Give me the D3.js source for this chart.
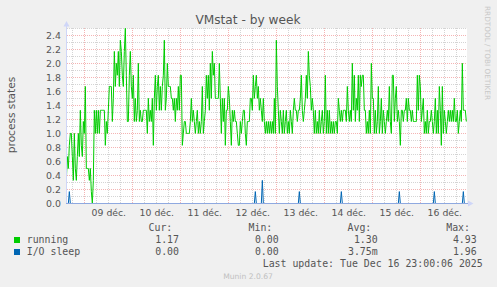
<!DOCTYPE html>
<html><head><meta charset="utf-8">
<script src="https://cdn.jsdelivr.net/npm/d3@7"></script>
<style>
html,body{margin:0;padding:0;background:#F0F0F0;}
svg{display:block;}
</style></head><body>
<svg id="c" width="497" height="287"></svg>
<script>
// ---------------- data ----------------
const chartTitle = "VMstat - by week";
const yAxisTitle = "process states";
const sideText = "RRDTOOL / TOBI OETIKER";
const footerText = "Munin 2.0.67";
const lastUpdate = "Last update: Tue Dec 16 23:00:06 2025";

const yTicks = [0.0, 0.2, 0.4, 0.6, 0.8, 1.0, 1.2, 1.4, 1.6, 1.8, 2.0, 2.2, 2.4];
const dayLabels = ["09 déc.", "10 déc.", "11 déc.", "12 déc.", "13 déc.", "14 déc.", "15 déc.", "16 déc."];
const dayLabelTimes = ["2025-12-09T12:00", "2025-12-10T12:00", "2025-12-11T12:00", "2025-12-12T12:00",
                       "2025-12-13T12:00", "2025-12-14T12:00", "2025-12-15T12:00", "2025-12-16T12:00"];

const seriesNames = ["running", "I/O sleep"];
const seriesColors = ["#00CC00", "#0066B3"];
const legendHeaders = ["Cur:", "Min:", "Avg:", "Max:"];
const legendCur = ["1.17", "0.00"];
const legendMin = ["0.00", "0.00"];
const legendAvg = ["1.30", "3.75m"];
const legendMax = ["4.93", "1.96"];

const viewStart = "2025-12-08T15:20";
const viewEnd = "2025-12-16T23:20";
const lastSample = "2025-12-16T23:00";
const sampleMinutes = 30;

// running (30-min samples, oldest first)
const running = [
0.33,0.67,0.5,0.83,1.0,1.0,0.67,0.33,1.0,0.5,
0.33,0.67,1.0,0.67,1.33,0.83,0.67,1.17,1.0,1.67,
0.5,0.5,0.5,0.33,0.5,0.17,0.0,0.33,1.33,1.0,
1.33,1.0,1.33,1.0,1.33,1.33,1.33,1.33,1.33,0.83,
1.17,1.0,1.33,1.67,1.67,1.67,1.17,1.5,2.17,1.67,
2.0,1.83,2.17,1.67,2.33,2.17,
1.83,1.67,2.17,2.5,1.83,1.17,1.17,1.83,2.17,1.67,
1.5,1.83,1.17,1.5,1.17,1.33,2.0,1.17,1.33,1.17,
1.17,1.33,1.33,1.33,1.33,1.0,1.5,1.17,1.33,1.17,
1.5,0.83,1.5,1.83,1.33,1.67,1.83,1.33,1.67,1.33,
1.67,1.83,2.33,1.33,1.5,2.0,1.67,1.67,1.67,1.5,
1.5,1.33,1.5,1.17,1.5,1.33,1.67,1.33,1.83,
1.83,0.83,1.0,1.17,1.17,1.0,1.0,1.0,1.0,1.17,
1.5,1.17,1.33,1.17,1.0,1.17,1.33,1.0,1.17,1.0,
1.17,1.67,1.0,1.17,1.33,1.83,1.5,1.83,1.33,2.0,
1.5,2.17,1.83,2.0,1.5,1.5,1.5,1.5,2.0,1.5,
1.0,1.5,1.17,1.5,0.83,1.33,1.33,1.67,1.5,1.17,
0.83,1.33,1.17,1.33,1.17,1.17,1.0,0.83,
0.83,1.17,1.0,1.17,1.33,1.33,1.0,0.83,1.17,1.17,
1.17,1.5,1.5,1.33,1.83,1.5,1.67,1.83,1.5,1.67,
1.33,1.5,1.33,1.17,1.5,1.17,1.0,1.17,1.0,1.17,
1.0,1.17,1.0,1.17,1.0,1.5,1.0,2.33,1.67,1.33,
1.0,1.33,1.17,1.0,1.33,1.0,1.17,1.33,1.0,1.17,
1.0,1.33,1.17,1.0,1.33,1.5,1.33,1.33,
1.17,1.33,1.33,1.5,1.83,1.33,1.17,1.33,1.5,1.83,
1.5,2.17,1.83,1.67,1.33,1.5,1.33,1.0,1.33,1.0,
1.17,1.0,1.33,1.0,1.17,1.33,1.0,1.17,1.83,1.0,
1.33,1.0,1.33,1.0,1.17,1.0,1.17,1.0,1.17,1.17,
1.0,1.5,1.33,1.17,1.33,1.17,1.33,1.33,1.33,1.17,
1.67,1.33,1.17,1.33,1.17,2.0,1.33,1.83,
1.17,1.5,1.33,1.83,1.17,1.83,1.67,1.83,1.83,1.33,
1.33,1.0,1.17,1.0,1.33,1.0,2.0,1.5,1.5,1.0,
1.33,1.0,1.17,1.67,1.0,1.17,1.5,1.0,1.33,1.17,
1.0,1.17,1.33,1.17,1.67,1.17,1.0,1.83,1.83,1.17,
1.5,1.67,1.17,1.33,1.17,0.83,1.33,1.33,1.17,1.33,
1.33,1.5,1.17,1.5,1.33,1.33,1.17,1.33,
1.17,1.17,1.17,1.17,1.83,1.33,1.83,1.67,1.17,1.33,
1.5,1.0,1.17,1.0,1.33,1.0,1.17,1.17,1.33,1.17,
1.0,1.17,1.5,1.0,1.33,1.0,1.67,1.33,0.83,1.67,
1.0,1.33,1.17,1.0,1.17,1.33,1.17,1.33,1.17,1.33,
1.17,1.5,1.17,1.17,1.33,1.0,1.17,1.33,1.17,2.0,
1.33,1.33,1.33,1.17
];

// I/O sleep: zero except these samples (sample index, value)
const ioSleepIndex = [3, 189, 196, 233, 275, 333, 368, 397];
const ioSleepValue = [0.17, 0.17, 0.33, 0.17, 0.17, 0.17, 0.17, 0.17];

// ---------------- drawing ----------------
const parse = d3.timeParse("%Y-%m-%dT%H:%M");
const svg = d3.select("#c");
const L = 67, R = 467, T = 28.3, B = 203.5;

const x = d3.scaleTime().domain([parse(viewStart), parse(viewEnd)]).range([L, R]);
const y = d3.scaleLinear().domain([0, 2.5]).range([B, T]);

const endT = parse(lastSample).getTime();
const n = running.length;
const times = running.map((_, i) => new Date(endT - (n - 1 - i) * sampleMinutes * 60000));
const io = running.map(() => 0);
ioSleepIndex.forEach((k, j) => { io[k] = ioSleepValue[j]; });

svg.append("rect").attr("width", 497).attr("height", 287).attr("fill", "#F0F0F0");
svg.append("rect").attr("x", L).attr("y", T).attr("width", R - L).attr("height", B - T).attr("fill", "#FFFFFF");

const grid = svg.append("g").attr("shape-rendering", "crispEdges");
const minorCol = "#D4D4D4", majorCol = "#F4B4B4";
// horizontal grid
d3.range(1, 26).forEach(k => {
  const v = k / 10;
  const yy = Math.floor(y(v)) + 0.5;
  const major = (k % 2 === 0);
  grid.append("line").attr("x1", L).attr("x2", R).attr("y1", yy).attr("y2", yy)
    .attr("stroke", major ? majorCol : minorCol).attr("stroke-dasharray", "1,1");
});
// vertical grid: every 6 hours, red at midnight
d3.timeHour.every(6).range(parse(viewStart), parse(viewEnd)).forEach(t => {
  const xx = Math.floor(x(t)) + 0.5;
  const major = t.getHours() === 0;
  grid.append("line").attr("x1", xx).attr("x2", xx).attr("y1", T).attr("y2", B)
    .attr("stroke", major ? majorCol : minorCol).attr("stroke-dasharray", "1,1");
});

svg.append("clipPath").attr("id", "pc").append("rect")
  .attr("x", L).attr("y", T - 2).attr("width", R - L).attr("height", B - T + 3);

const line = d3.line().x((d, i) => x(times[i])).y(d => y(d));
const plot = svg.append("g").attr("clip-path", "url(#pc)");
plot.append("path").datum(running).attr("d", line).attr("fill", "none")
  .attr("stroke", seriesColors[0]).attr("stroke-width", 1);
plot.append("path").datum(io).attr("d", line).attr("fill", "none")
  .attr("stroke", seriesColors[1]).attr("stroke-width", 1);

// axes lines + arrows
const axisCol = "#CFD6F8";
svg.append("line").attr("x1", 66.5).attr("x2", 66.5).attr("y1", 25).attr("y2", 204)
  .attr("stroke", axisCol).attr("shape-rendering", "crispEdges");
svg.append("line").attr("x1", 66).attr("x2", 469).attr("y1", 203.5).attr("y2", 203.5)
  .attr("stroke", "#8FA9E0").attr("shape-rendering", "crispEdges");
svg.append("path").attr("d", "M63.5,26.5L69.5,26.5L66.5,21Z").attr("fill", axisCol);
svg.append("path").attr("d", "M468,200.5L468,206.5L473.5,203.5Z").attr("fill", axisCol);

const font = "'DejaVu Sans', sans-serif";
const mono = "'DejaVu Sans Mono', monospace";
const fontCol = "#555";

// y axis labels
const yAxis = d3.axisLeft(y).tickValues(yTicks).tickFormat(d3.format(".1f")).tickSize(0).tickPadding(0);
const ya = svg.append("g").attr("transform", "translate(61,0)").call(yAxis);
ya.select(".domain").remove();
ya.selectAll("text").attr("font-family", font).attr("font-size", "9.4px").attr("fill", fontCol).attr("dy", "0.34em");

// x axis labels
const xAxis = d3.axisBottom(x).tickValues(dayLabelTimes.map(parse))
  .tickFormat((d, i) => dayLabels[i]).tickSize(0).tickPadding(0);
const xa = svg.append("g").attr("transform", "translate(0,216)").call(xAxis);
xa.select(".domain").remove();
xa.selectAll("text").attr("font-family", font).attr("font-size", "9.3px").attr("fill", fontCol).attr("dy", 0);

// titles
svg.append("text").attr("x", 248).attr("y", 24).attr("text-anchor", "middle")
  .attr("font-family", font).attr("font-size", "12.2px").attr("fill", fontCol).text(chartTitle);
svg.append("text").attr("transform", "translate(15,115) rotate(-90)").attr("text-anchor", "middle")
  .attr("font-family", font).attr("font-size", "10.6px").attr("fill", fontCol).text(yAxisTitle);
svg.append("text").attr("transform", "translate(485,6) rotate(90)").attr("text-anchor", "start")
  .attr("font-family", font).attr("font-size", "7.3px").attr("fill", "#C8C8C8").text(sideText);

// legend
const hdrX = [172.3, 272.3, 371.3, 470];
const valX = [179, 278.7, 377.7, 476.7];
const lg = svg.append("g").attr("font-family", mono).attr("font-size", "9.9px").attr("fill", fontCol);
legendHeaders.forEach((h, i) => lg.append("text").attr("x", hdrX[i]).attr("y", 231).attr("text-anchor", "end").text(h));
const cols = [legendCur, legendMin, legendAvg, legendMax];
seriesNames.forEach((name, r) => {
  const by = 243 + r * 12;
  svg.append("rect").attr("x", 14).attr("y", by - 6).attr("width", 6).attr("height", 6).attr("fill", seriesColors[r]);
  lg.append("text").attr("x", 26.7).attr("y", by).text(name);
  cols.forEach((c, j) => lg.append("text").attr("x", valX[j]).attr("y", by).attr("text-anchor", "end").text(c[r]));
});
lg.append("text").attr("x", 482.7).attr("y", 267).attr("text-anchor", "end").text(lastUpdate);
svg.append("text").attr("x", 248).attr("y", 279).attr("text-anchor", "middle")
  .attr("font-family", font).attr("font-size", "7.6px").attr("fill", "#C0C0C0").text(footerText);
</script>
</body></html>
